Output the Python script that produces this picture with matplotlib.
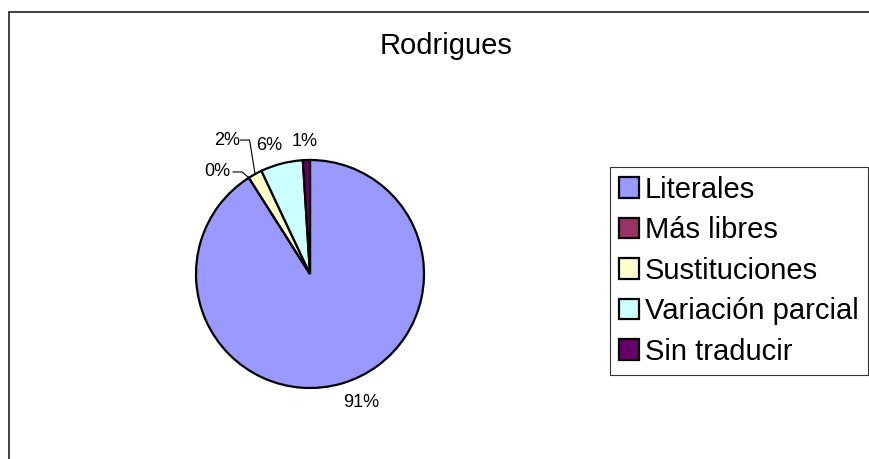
import numpy as np
import matplotlib.pyplot as plt
from matplotlib.patches import Rectangle

plt.rcParams['font.family'] = ['Liberation Sans', 'DejaVu Sans']

titulo = "Rodrigues"
categorias = ['Literales', 'Más libres', 'Sustituciones', 'Variación parcial', 'Sin traducir']
valores = [91, 0, 2, 6, 1]
colores = ['#9999FF', '#993366', '#FFFFCC', '#CCFFFF', '#660066']

fig = plt.figure(figsize=(8.69, 4.59), dpi=100)

# marco exterior (cortado a la derecha y abajo, como en el original)
fig.patches.append(Rectangle((9 / 869, -0.1), 1.0, 1 - 12 / 459 + 0.1,
                             transform=fig.transFigure, fill=False,
                             edgecolor='#333333', lw=1.3))

ax = fig.add_axes([139 / 869, 14 / 459, 342 / 869, 342 / 459])
wedges, _ = ax.pie(valores, colors=colores, startangle=90, counterclock=False,
                   wedgeprops=dict(edgecolor='black', linewidth=1.6))
ax.set_xlim(-1.5, 1.5)
ax.set_ylim(-1.5, 1.5)
ax.set_aspect('equal')
ax.axis('off')

total = sum(valores)
etiquetas = [f"{round(v / total * 100)}%" for v in valores]
# posición del texto de cada porcentaje (unidades del pie)
pos_txt = [(0.447, -1.13), (-0.81, 0.895), (-0.73, 1.175), (-0.36, 1.13), (-0.044, 1.16)]
for w, lab, (tx, ty) in zip(wedges, etiquetas, pos_txt):
    ax.text(tx, ty, lab, ha='center', va='center', fontsize=13)

# líneas guía para 0% y 2%
codos = {1: [(-0.675, 0.895), (-0.596, 0.895)], 2: [(-0.61, 1.175), (-0.53, 1.175)]}
for i, pts in codos.items():
    w = wedges[i]
    ang = np.deg2rad((w.theta1 + w.theta2) / 2)
    ex, ey = np.cos(ang), np.sin(ang)
    xs = [p[0] for p in pts] + [ex]
    ys = [p[1] for p in pts] + [ey]
    ax.plot(xs, ys, color='black', lw=0.8)

fig.text(446 / 869, 1 - 46 / 459, titulo, ha='center', va='center', fontsize=21)

leg = fig.legend(wedges, categorias, loc='upper left',
                 bbox_to_anchor=(610 / 869, 1 - 167 / 459), borderaxespad=0,
                 fontsize=21, frameon=True, fancybox=False, edgecolor='black',
                 handlelength=0.7, handleheight=0.7, handletextpad=0.2,
                 labelspacing=0.43, borderpad=0.3)
leg.get_frame().set_linewidth(0.8)

fig.savefig('out.png', dpi=100)
